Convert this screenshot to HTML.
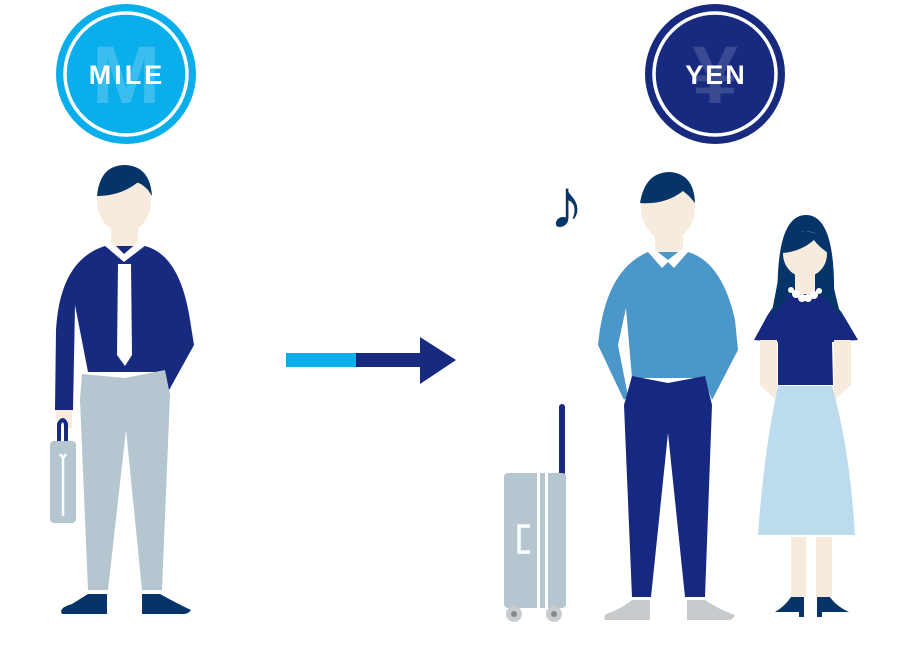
<!DOCTYPE html>
<html><head><meta charset="utf-8"><style>
html,body{margin:0;padding:0;background:#fff;}
svg{display:block;}
text{font-family:"Liberation Sans",sans-serif;}
</style></head><body>
<svg width="906" height="652" viewBox="0 0 906 652" xmlns="http://www.w3.org/2000/svg">
<!-- MILE coin -->
<circle cx="126" cy="74" r="70" fill="#0aaeeb"/>
<circle cx="126" cy="74" r="61" fill="none" stroke="#fff" stroke-width="3.5"/>
<text x="126" y="103" font-size="82" font-weight="bold" fill="#fff" fill-opacity="0.2" text-anchor="middle">M</text>
<text x="127" y="84" font-size="27" font-weight="bold" fill="#fff" text-anchor="middle" letter-spacing="3">MILE</text>
<!-- YEN coin -->
<circle cx="715" cy="74" r="70" fill="#172a7f"/>
<circle cx="715" cy="74" r="61" fill="none" stroke="#fff" stroke-width="3.5"/>
<text x="715" y="103" font-size="82" font-weight="bold" fill="#fff" fill-opacity="0.15" text-anchor="middle">¥</text>
<text x="716" y="84" font-size="27" font-weight="bold" fill="#fff" text-anchor="middle" letter-spacing="2">YEN</text>
<!-- arrow -->
<rect x="286" y="353" width="70" height="14" fill="#0aaeeb"/>
<rect x="356" y="353" width="66" height="14" fill="#172a7f"/>
<polygon points="420,337 456,360 420,384" fill="#172a7f"/>

<!-- Left man -->
<rect x="111" y="220" width="27" height="30" fill="#f7ebdd"/>
<ellipse cx="124" cy="200" rx="27" ry="33" fill="#f7ebdd"/>
<path d="M97,196 Q100,165 125,165 Q150,166 152,196 L148,190 Q140,182 137,183 Q120,196 97,196Z" fill="#053469"/>
<path d="M56,330 Q60,260 105,246 L145,246 Q180,255 190,320 L194,345 L168,392 L162,372 L88,372 L75,305 L73,410 L55,410Z" fill="#172a7f"/>
<path d="M104,245 L124,262 L146,245 L138,242 L124,254 L112,242Z" fill="#fff"/>
<polygon points="118,264 131,264 132,355 125,366 117,355" fill="#fff"/>
<path d="M56,410 L72,410 L72,428 Q62,430 56,420Z" fill="#f7ebdd"/>
<path d="M82,374 L125,378 L165,370 L170,395 L162,590 L142,590 L126,430 L108,590 L88,590 L80,400Z" fill="#b5c6d0"/>
<path d="M88,594 L107,594 L107,614 L62,614 Q58,608 72,604Z" fill="#053469"/>
<path d="M142,594 L160,594 Q178,604 191,610 Q188,615 180,614 L142,614Z" fill="#053469"/>
<path d="M59,441 L59,424 Q63,416 66,424 L66,441" fill="none" stroke="#172a7f" stroke-width="4"/>
<rect x="50" y="441" width="26" height="82" rx="4" fill="#b5c6d0"/>
<path d="M60,454 L63,458 L66,454 M63,458 L63,516" stroke="#fff" stroke-width="2.5" fill="none"/>

<!-- note -->
<text x="549" y="228" font-size="70" fill="#053469">♪</text>

<!-- suitcase -->
<rect x="559" y="404" width="6" height="72" rx="3" fill="#172a7f"/>
<rect x="504" y="473" width="62" height="135" rx="4" fill="#b5c6d0"/>
<rect x="537" y="473" width="3" height="135" fill="#fff"/>
<rect x="545" y="473" width="3" height="135" fill="#fff"/>
<path d="M530,526 L519,526 L519,552 L530,552" fill="none" stroke="#fff" stroke-width="3.5"/>
<circle cx="514" cy="614" r="8" fill="#c8cccf"/><circle cx="514" cy="614" r="3" fill="#888"/>
<circle cx="554" cy="614" r="8" fill="#c8cccf"/><circle cx="554" cy="614" r="3" fill="#888"/>

<!-- right man -->
<rect x="655" y="230" width="28" height="28" fill="#f7ebdd"/>
<ellipse cx="668" cy="208" rx="27" ry="32" fill="#f7ebdd"/>
<path d="M640,203 Q645,172 670,172 Q694,174 695,203 L689,196 L683,191 Q665,205 640,203Z" fill="#053469"/>
<path d="M598,345 Q605,270 648,252 L688,252 Q722,262 735,320 L738,350 L712,400 L704,378 L632,378 L626,308 L618,345 L628,396 L624,400Z" fill="#4c97c9"/>
<path d="M648,252 L662,268 L668,262 L674,268 L688,252 L682,249 L668,260 L654,249Z" fill="#fff"/>
<path d="M632,376 L668,383 L705,376 L712,405 L705,597 L685,597 L668,433 L651,597 L632,597 L624,405Z" fill="#162880"/>
<path d="M632,600 L650,600 L650,620 L605,620 Q602,614 612,612 Q625,606 632,600Z" fill="#c8cbcd"/>
<path d="M687,600 L705,600 Q720,610 735,615 Q733,620 728,620 L687,620Z" fill="#c8cbcd"/>

<!-- woman -->
<path d="M778,310 Q774,215 806,215 Q836,215 834,300 L838,320 L775,320Z" fill="#053469"/>
<rect x="795" y="262" width="20" height="32" fill="#f7ebdd"/>
<ellipse cx="805" cy="254" rx="22" ry="23" fill="#f7ebdd"/>
<path d="M782,253 Q784,231 806,231 Q826,234 828,253 Q818,246 814,240 Q800,252 782,253Z" fill="#053469"/>
<path d="M786,297 L826,297 Q838,305 845,318 L858,340 L832,342 L833,385 L778,385 L778,342 L754,340 L766,318 Q774,303 786,297Z" fill="#162880"/>
<path d="M778,280 L787,282 L786,300 Q778,306 770,322 Z" fill="#053469"/>
<path d="M832,280 L823,282 L826,300 Q834,306 842,322 Z" fill="#053469"/>
<rect x="760" y="340" width="17" height="45" fill="#f7ebdd"/>
<rect x="834" y="340" width="17" height="45" fill="#f7ebdd"/>
<polygon points="760,385 777,385 778,402" fill="#f7ebdd"/>
<polygon points="834,385 851,385 832,402" fill="#f7ebdd"/>
<g fill="#fff"><circle cx="796" cy="294" r="4"/><circle cx="802" cy="298" r="4"/><circle cx="808" cy="298" r="4"/><circle cx="814" cy="295" r="4"/><circle cx="819" cy="291" r="3"/><circle cx="791" cy="290" r="3"/></g>
<path d="M778,386 L832,386 Q850,450 855,535 L758,535 Q764,450 778,386Z" fill="#bcdbed"/>
<rect x="791" y="537" width="15" height="60" fill="#f7ebdd"/>
<rect x="816" y="537" width="16" height="60" fill="#f7ebdd"/>
<path d="M791,597 L804,597 L804,617 L799,617 L799,612 L775,612 Q785,606 791,597Z" fill="#053469"/>
<path d="M817,597 L830,597 Q836,606 849,612 L822,612 L822,617 L817,617Z" fill="#053469"/>
</svg>
</body></html>
